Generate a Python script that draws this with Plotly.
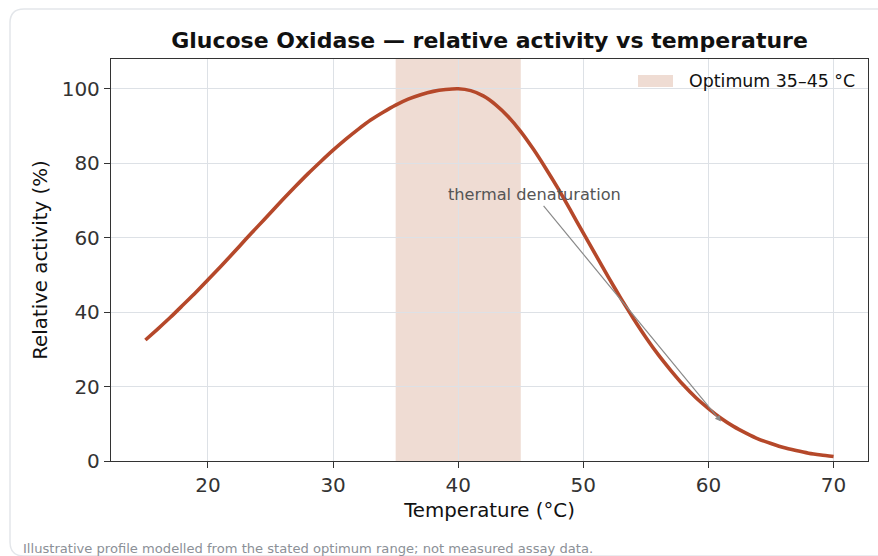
import plotly.graph_objects as go

# ---- data ----
temperature_c = list(range(15, 71))
relative_activity = [
    32.5, 35.5, 38.6, 41.9, 45.2, 48.7, 52.2, 55.8, 59.5, 63.1,
    66.7, 70.3, 73.8, 77.2, 80.4, 83.5, 86.4, 89.1, 91.6, 93.7,
    95.6, 97.2, 98.4, 99.3, 99.8, 100.0, 99.5, 98.1, 95.7, 92.5,
    88.5, 83.8, 78.6, 73.1, 67.2, 61.2, 55.3, 49.4, 43.7, 38.3,
    33.2, 28.5, 24.3, 20.4, 17.0, 14.1, 11.5, 9.3, 7.5, 5.9,
    4.7, 3.6, 2.8, 2.1, 1.6, 1.2,
]
optimum_range = [35, 45]
optimum_label = "Optimum 35–45 °C"
annotation_text = "thermal denaturation"
annotation_tail = [46.1, 71.5]
annotation_head = [61.0, 10.6]
x_ticks = [20, 30, 40, 50, 60, 70]
y_ticks = [0, 20, 40, 60, 80, 100]
x_range = [12.25, 72.75]
y_range = [0, 108]

title_text = "Glucose Oxidase — relative activity vs temperature"
x_title = "Temperature (°C)"
y_title = "Relative activity (%)"
footnote = "Illustrative profile modelled from the stated optimum range; not measured assay data."

CURVE = "#b5482a"
BAND = "#efdcd3"
FONT = "DejaVu Sans"

W, H = 878, 556
L, R, T, B = 111, 10, 59, 95
pw, ph = W - L - R, H - T - B

def px_x(p):
    return (p - L) / pw

def px_y(p):
    return (H - B - p) / ph

fig = go.Figure()

# optimum band
fig.add_shape(
    type="rect", xref="x", yref="y",
    x0=optimum_range[0], x1=optimum_range[1], y0=y_range[0], y1=y_range[1],
    fillcolor=BAND, line=dict(width=0), layer="below",
)

fig.add_trace(go.Scatter(
    x=temperature_c, y=relative_activity, mode="lines",
    line=dict(color=CURVE, width=3.6, shape="spline", smoothing=0.6),
    showlegend=False, hoverinfo="x+y",
))

# legend (swatch + label) for the optimum band
fig.add_shape(type="rect", xref="paper", yref="paper",
              x0=px_x(638), x1=px_x(673), y0=px_y(87), y1=px_y(75),
              fillcolor=BAND, line=dict(width=0), layer="above")
fig.add_annotation(
    x=px_x(687), y=px_y(81), xref="paper", yref="paper",
    xanchor="left", yanchor="middle", showarrow=False,
    text=optimum_label, font=dict(family=FONT, size=17.4, color="#111111"),
)

# card outline
x0c, x1c = px_x(10), px_x(905)
y0c, y1c = px_y(9), px_y(556)
rx, ry = 14 / pw, 14 / ph
card_path = (
    f"M {x0c},{y0c - ry} Q {x0c},{y0c} {x0c + rx},{y0c} "
    f"L {x1c},{y0c} L {x1c},{y1c} L {x0c + rx},{y1c} "
    f"Q {x0c},{y1c} {x0c},{y1c + ry} Z"
)
fig.add_shape(type="path", xref="paper", yref="paper", path=card_path,
              line=dict(color="#e3e6ea", width=1.5), fillcolor="rgba(0,0,0,0)",
              layer="below")

fig.add_annotation(
    x=annotation_head[0], y=annotation_head[1],
    ax=annotation_tail[0], ay=annotation_tail[1],
    xref="x", yref="y", axref="x", ayref="y",
    text=annotation_text, showarrow=True,
    arrowhead=2, arrowsize=1, arrowwidth=1.2, arrowcolor="#8a8a8a",
    font=dict(family=FONT, size=16.2, color="#555555"),
)

fig.add_annotation(
    x=px_x(21), y=px_y(548), xref="paper", yref="paper",
    xanchor="left", yanchor="middle", showarrow=False,
    text=footnote, font=dict(family=FONT, size=13.1, color="#8b9097"),
)

axis_common = dict(
    showline=True, linecolor="#333333", linewidth=1.3, mirror=True,
    ticks="outside", ticklen=6, tickwidth=1.2, tickcolor="#333333",
    showgrid=True, gridcolor="#dde1e6", gridwidth=1,
    zeroline=False,
    tickfont=dict(family=FONT, size=20, color="#333333"),
)

fig.update_layout(
    width=W, height=H,
    margin=dict(l=L, r=R, t=T, b=B),
    paper_bgcolor="white", plot_bgcolor="white",
    font=dict(family=FONT),
    title=dict(
        text=f"<b>{title_text}</b>",
        x=0.5, xref="paper", xanchor="center",
        y=1 - 40 / H, yref="container", yanchor="middle",
        font=dict(family=FONT, size=22, color="#111111"),
    ),
    xaxis=dict(
        range=x_range, tickvals=x_ticks,
        title=dict(text=x_title, font=dict(family=FONT, size=19.8, color="#111111"), standoff=6),
        **axis_common,
    ),
    yaxis=dict(
        range=y_range, tickvals=y_ticks,
        title=dict(text=y_title, font=dict(family=FONT, size=19.8, color="#111111"), standoff=8),
        **axis_common,
    ),
    showlegend=False,
)

fig.write_html("out.html", config={"displayModeBar": False},
               post_script="document.body.style.margin='0px';")
